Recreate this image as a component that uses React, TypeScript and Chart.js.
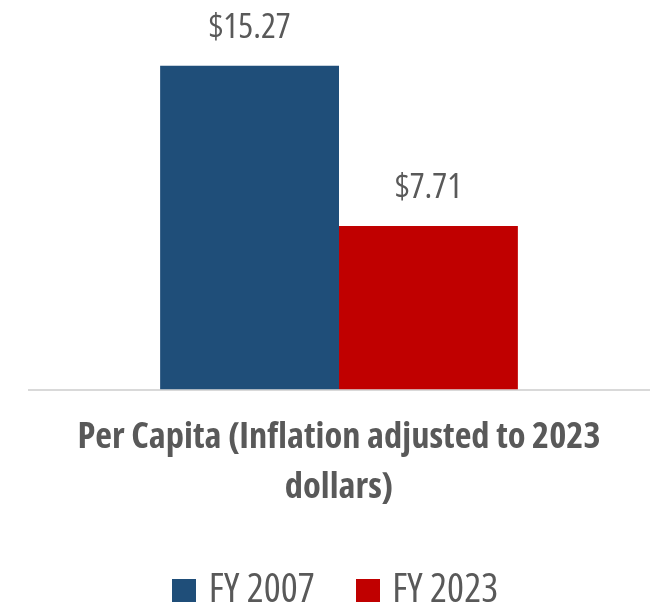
import React, { useEffect, useRef } from "react";
import { Chart, registerables } from "chart.js";

Chart.register(...registerables);

const categories: string[][] = [["Per Capita (Inflation adjusted to 2023", "dollars)"]];
const seriesNames: string[] = ["FY 2007", "FY 2023"];
const fy2007Values: number[] = [15.27];
const fy2023Values: number[] = [7.71];
const seriesColors: string[] = ["#1F4E79", "#C00000"];

const FAMILY = "'Open Sans', 'DejaVu Sans Condensed', sans-serif";
const TEXT = "#595959";

const valueLabels = {
  id: "valueLabels",
  afterDatasetsDraw(chart: any) {
    const ctx = chart.ctx;
    ctx.save();
    ctx.font = `condensed normal 35px ${FAMILY}`;
    ctx.fillStyle = TEXT;
    ctx.textAlign = "center";
    ctx.textBaseline = "alphabetic";
    chart.data.datasets.forEach((ds: any, i: number) => {
      const meta = chart.getDatasetMeta(i);
      meta.data.forEach((el: any, j: number) => {
        const v = ds.data[j] as number;
        ctx.fillText(`$${v.toFixed(2)}`, el.x, el.y - 28);
      });
    });
    ctx.restore();
  },
};

function squareIcon(color: string): HTMLCanvasElement {
  const c = document.createElement("canvas");
  c.width = 24;
  c.height = 24;
  const g = c.getContext("2d")!;
  g.fillStyle = color;
  g.fillRect(0, 0, 24, 24);
  return c;
}

export default function App() {
  const ref = useRef<HTMLCanvasElement | null>(null);
  useEffect(() => {
    if (!ref.current) return;
    const icons = seriesColors.map(squareIcon);
    const chart = new Chart(ref.current, {
      type: "bar",
      data: {
        labels: categories,
        datasets: [
          { label: seriesNames[0], data: fy2007Values, backgroundColor: seriesColors[0] },
          { label: seriesNames[1], data: fy2023Values, backgroundColor: seriesColors[1] },
        ],
      },
      options: {
        animation: false,
        responsive: true,
        maintainAspectRatio: false,
        layout: { padding: { left: 21, right: 2, top: 0, bottom: 0 } },
        datasets: { bar: { categoryPercentage: 0.577, barPercentage: 1 } },
        plugins: {
          tooltip: { enabled: false },
          legend: {
            position: "bottom",
            align: "center",
            labels: {
              usePointStyle: true,
              pointStyleWidth: 9,
              padding: 48.5,
              color: TEXT,
              font: { family: FAMILY, size: 40, weight: "condensed normal" as any },
              generateLabels: (ch: any) =>
                Chart.defaults.plugins.legend.labels
                  .generateLabels(ch)
                  .map((item: any, i: number) => ({ ...item, pointStyle: icons[i] })),
            },
          },
        },
        scales: {
          x: {
            grid: { display: false, drawTicks: false },
            border: { display: true, color: "#D9D9D9", width: 2 },
            ticks: {
              color: TEXT,
              padding: 23.5,
              maxRotation: 0,
              autoSkip: false,
              font: { family: FAMILY, size: 36.5, weight: "condensed bold" as any, lineHeight: 1.356 },
            },
            afterFit: (scale: any) => {
              scale.height = 133;
              scale.paddingLeft = 0;
              scale.paddingRight = 0;
            },
          },
          y: {
            display: false,
            min: 0,
            max: 18,
          },
        },
      },
      plugins: [valueLabels],
    });
    return () => chart.destroy();
  }, []);
  return (
    <div style={{ width: 643, height: 594, overflow: "hidden" }}>
      <div style={{ width: 643, height: 613, position: "relative" }}>
        <canvas ref={ref} />
      </div>
    </div>
  );
}
